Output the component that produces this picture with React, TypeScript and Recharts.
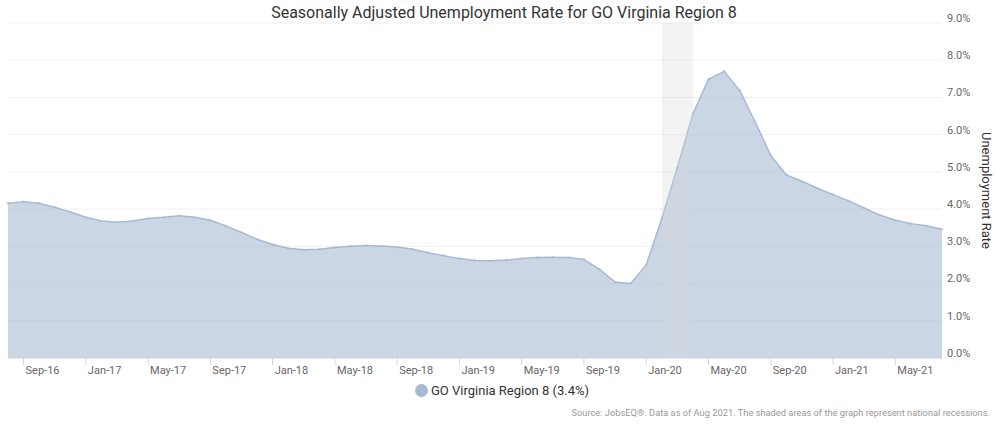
import React from "react";
import {
  AreaChart,
  Area,
  XAxis,
  YAxis,
  CartesianGrid,
  ReferenceArea,
  Label,
} from "recharts";

const months = [
  "Aug-16", "Sep-16", "Oct-16", "Nov-16", "Dec-16",
  "Jan-17", "Feb-17", "Mar-17", "Apr-17", "May-17", "Jun-17", "Jul-17", "Aug-17", "Sep-17", "Oct-17", "Nov-17", "Dec-17",
  "Jan-18", "Feb-18", "Mar-18", "Apr-18", "May-18", "Jun-18", "Jul-18", "Aug-18", "Sep-18", "Oct-18", "Nov-18", "Dec-18",
  "Jan-19", "Feb-19", "Mar-19", "Apr-19", "May-19", "Jun-19", "Jul-19", "Aug-19", "Sep-19", "Oct-19", "Nov-19", "Dec-19",
  "Jan-20", "Feb-20", "Mar-20", "Apr-20", "May-20", "Jun-20", "Jul-20", "Aug-20", "Sep-20", "Oct-20", "Nov-20", "Dec-20",
  "Jan-21", "Feb-21", "Mar-21", "Apr-21", "May-21", "Jun-21", "Jul-21", "Aug-21",
];

const rates = [
  4.16, 4.2, 4.16, 4.05, 3.92,
  3.78, 3.68, 3.65, 3.68, 3.75, 3.78, 3.82, 3.78, 3.7, 3.55, 3.37, 3.19,
  3.05, 2.95, 2.91, 2.92, 2.97, 3.0, 3.02, 3.01, 2.98, 2.92, 2.83, 2.75,
  2.67, 2.62, 2.61, 2.63, 2.67, 2.7, 2.71, 2.7, 2.65, 2.38, 2.04, 2.0,
  2.5, 3.75, 5.12, 6.56, 7.49, 7.7, 7.19, 6.34, 5.44, 4.92, 4.75, 4.56,
  4.39, 4.22, 4.03, 3.84, 3.7, 3.61, 3.55, 3.46,
];

const xTicks = [
  "Sep-16", "Jan-17", "May-17", "Sep-17", "Jan-18", "May-18", "Sep-18",
  "Jan-19", "May-19", "Sep-19", "Jan-20", "May-20", "Sep-20", "Jan-21", "May-21",
];
const yTicks = [0, 1, 2, 3, 4, 5, 6, 7, 8, 9];
const recession = ["Feb-20", "Apr-20"];

const seriesName = "GO Virginia Region 8";
const latest = "3.4%";

const data = months.map((m, i) => ({ month: m, rate: rates[i] }));

const color = "#a8bad3";

const XTick = (props: any) => {
  const { x, y, payload } = props;
  return (
    <text x={x + 2} y={y} dy="0.71em" textAnchor="start" fill="#666" fontSize={11}>
      {payload.value}
    </text>
  );
};

const YTick = (props: any) => {
  const { x, y, payload } = props;
  return (
    <text x={x} y={y - 5} dy="0.35em" textAnchor="start" fill="#666" fontSize={11}>
      {payload.value.toFixed(1)}%
    </text>
  );
};

const AxisTitle = (props: any) => {
  const vb = props.viewBox;
  const cx = vb.x + vb.width - 6;
  const cy = vb.y + vb.height / 2;
  return (
    <text
      transform={`translate(${cx},${cy}) rotate(90)`}
      textAnchor="middle"
      dominantBaseline="central"
      fontSize={13}
      fill="#333"
    >
      Unemployment Rate
    </text>
  );
};

export default function App() {
  return (
    <div
      style={{
        position: "absolute",
        left: 0,
        top: 0,
        width: 996,
        height: 425,
        background: "#fff",
        fontFamily: "Roboto, sans-serif",
      }}
    >
      <AreaChart
        width={996}
        height={425}
        data={data}
        margin={{ top: 23, left: 8, right: 4, bottom: 47 }}
      >
        <CartesianGrid vertical={false} stroke="#efefef" />
        <XAxis
          dataKey="month"
          ticks={xTicks}
          interval={0}
          height={20}
          tickSize={7}
          tickMargin={1}
          axisLine={{ stroke: "#ccd6eb" }}
          tickLine={{ stroke: "#ccd6eb" }}
          tick={<XTick />}
        />
        <YAxis
          orientation="right"
          domain={[0, 9]}
          ticks={yTicks}
          width={50}
          tickSize={3}
          tickMargin={2}
          axisLine={false}
          tickLine={false}
          tick={<YTick />}
        >
          <Label content={<AxisTitle />} />
        </YAxis>
        <Area
          type="linear"
          dataKey="rate"
          stroke={color}
          strokeWidth={1.5}
          fill={color}
          fillOpacity={0.6}
          dot={{ r: 1.3, fill: color, stroke: "none" }}
          activeDot={false}
          isAnimationActive={false}
        />
        <ReferenceArea
          x1={recession[0]}
          x2={recession[1]}
          y1={0}
          y2={9}
          fill="#d8d8d8"
          fillOpacity={0.3}
          stroke="none"
        />
      </AreaChart>
      <div
        style={{
          position: "absolute",
          top: 3,
          left: 6,
          width: 996,
          textAlign: "center",
          fontSize: 16,
          color: "#333",
        }}
      >
        Seasonally Adjusted Unemployment Rate for GO Virginia Region 8
      </div>
      <div
        style={{
          position: "absolute",
          top: 383,
          left: 415,
          display: "flex",
          alignItems: "center",
          fontSize: 13,
          color: "#333",
        }}
      >
        <span
          style={{
            display: "inline-block",
            width: 13,
            height: 13,
            borderRadius: 7,
            background: color,
            marginRight: 3,
          }}
        />
        {seriesName} ({latest})
      </div>
      <div
        style={{
          position: "absolute",
          top: 407,
          right: 6,
          fontSize: 9.3,
          color: "#999",
        }}
      >
        Source: JobsEQ®. Data as of Aug 2021. The shaded areas of the graph represent national recessions.
      </div>
    </div>
  );
}
